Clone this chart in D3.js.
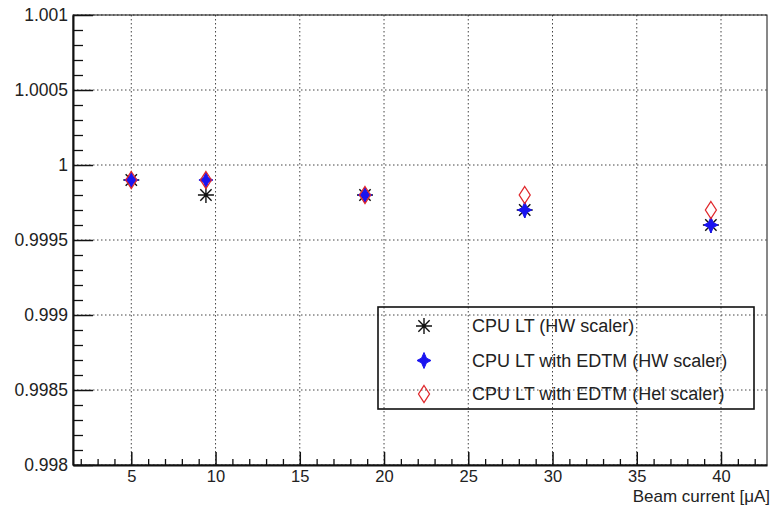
<!DOCTYPE html>
<html>
<head>
<meta charset="utf-8">
<script src="https://cdn.jsdelivr.net/npm/d3@7"></script>
<style>
  html, body { margin: 0; padding: 0; background: #fff; }
  svg { display: block; font-family: "Liberation Sans", Arial, Helvetica, sans-serif; }
</style>
</head>
<body>
<svg id="chart" width="773" height="505"></svg>
<script>
// Beam current [uA] at each measurement
const beamCurrent = [5.0, 9.43, 18.87, 28.35, 39.4];

// Live time ratios per method
const cpuLtHw        = [0.9999, 0.9998, 0.9998, 0.9997, 0.9996];
const cpuLtEdtmHw    = [0.9999, 0.9999, 0.9998, 0.9997, 0.9996];
const cpuLtEdtmHel   = [0.9999, 0.9999, 0.9998, 0.9998, 0.9997];

const xMajorTicks = [5, 10, 15, 20, 25, 30, 35, 40];
const yMajorTicks = [0.998, 0.9985, 0.999, 0.9995, 1, 1.0005, 1.001];
const yTickLabels = ["0.998", "0.9985", "0.999", "0.9995", "1", "1.0005", "1.001"];

const legendLabels = [
  "CPU LT (HW scaler)",
  "CPU LT with EDTM (HW scaler)",
  "CPU LT with EDTM (Hel scaler)"
];

const svg = d3.select("#chart");
const frame = { left: 73, right: 767, top: 15, bottom: 465 };

const x = d3.scaleLinear().domain([1.54, 42.73]).range([frame.left, frame.right]);
const y = d3.scaleLinear().domain([0.998, 1.001]).range([frame.bottom, frame.top]);

// dotted grid at major ticks
const grid = svg.append("g").attr("stroke", "#444").attr("stroke-width", 1)
  .attr("stroke-dasharray", "1.5,2.5");
grid.selectAll("line.vx").data(xMajorTicks).join("line")
  .attr("x1", d => x(d)).attr("x2", d => x(d))
  .attr("y1", frame.top).attr("y2", frame.bottom);
grid.selectAll("line.hy").data(yMajorTicks).join("line")
  .attr("x1", frame.left).attr("x2", frame.right)
  .attr("y1", d => y(d)).attr("y2", d => y(d));

// frame
svg.append("rect")
  .attr("x", frame.left).attr("y", frame.top)
  .attr("width", frame.right - frame.left).attr("height", frame.bottom - frame.top)
  .attr("fill", "none").attr("stroke", "#111").attr("stroke-width", 1);

// x axis: minor and major ticks pointing inward
const xMinor = d3.range(2, 43, 1).filter(v => v % 5 !== 0);
svg.append("g").attr("transform", `translate(0,${frame.bottom})`)
  .call(d3.axisBottom(x).tickValues(xMinor).tickSize(-6).tickFormat(""))
  .call(g => g.select(".domain").remove())
  .selectAll("line").attr("stroke", "#111").attr("stroke-width", 1.3);

const xAxis = svg.append("g").attr("transform", `translate(0,${frame.bottom})`)
  .call(d3.axisBottom(x).tickValues(xMajorTicks).tickSize(-13).tickPadding(5)
        .tickSizeOuter(0).tickFormat(d3.format("d")));
xAxis.select(".domain").attr("stroke", "#111").attr("stroke-width", 2);
xAxis.selectAll("line").attr("stroke", "#111").attr("stroke-width", 1.5);
xAxis.selectAll("text").attr("font-size", 16.5).attr("fill", "#222")
  .attr("font-family", "Liberation Sans, Arial, sans-serif");

// y axis
const yMinor = d3.range(0, 31).map(i => 0.998 + i * 0.0001)
  .filter(v => !yMajorTicks.some(t => Math.abs(t - v) < 1e-9));
svg.append("g").attr("transform", `translate(${frame.left},0)`)
  .call(d3.axisLeft(y).tickValues(yMinor).tickSize(-10).tickFormat(""))
  .call(g => g.select(".domain").remove())
  .selectAll("line").attr("stroke", "#111").attr("stroke-width", 1.3);

const yAxis = svg.append("g").attr("transform", `translate(${frame.left},0)`)
  .call(d3.axisLeft(y).tickValues(yMajorTicks).tickSize(-20).tickPadding(5)
        .tickSizeOuter(0).tickFormat((d, i) => yTickLabels[i]));
yAxis.select(".domain").attr("stroke", "#111").attr("stroke-width", 2);
yAxis.selectAll("line").attr("stroke", "#111").attr("stroke-width", 1.5);
yAxis.selectAll("text").attr("font-size", 17.5).attr("fill", "#222")
  .attr("font-family", "Liberation Sans, Arial, sans-serif");

// axis title
svg.append("text")
  .attr("x", frame.right + 3).attr("y", 502)
  .attr("text-anchor", "end").attr("font-size", 17).attr("fill", "#222")
  .text("Beam current [\u03bcA]");

// marker shapes
function asteriskPath(r) {
  const d = r * Math.SQRT1_2;
  return `M${-r},0L${r},0M0,${-r}L0,${r}M${-d},${-d}L${d},${d}M${-d},${d}L${d},${-d}`;
}
function starPath(h, w, c) {
  return `M0,${-h}L${c},${-c}L${w},0L${c},${c}L0,${h}L${-c},${c}L${-w},0L${-c},${-c}Z`;
}
function diamondPath(w, h) {
  return `M0,${-h}L${w},0L0,${h}L${-w},0Z`;
}

const series = [
  { values: cpuLtHw, draw: g => g.append("path").attr("d", asteriskPath(8))
      .attr("fill", "none").attr("stroke", "#111").attr("stroke-width", 1.4) },
  { values: cpuLtEdtmHw, draw: g => g.append("path").attr("d", starPath(8, 7, 2.4))
      .attr("fill", "#1a14f0").attr("stroke", "#1a14f0").attr("stroke-width", 1) },
  { values: cpuLtEdtmHel, draw: g => g.append("path").attr("d", diamondPath(5.5, 8.5))
      .attr("fill", "none").attr("stroke", "#e0282c").attr("stroke-width", 1.3) }
];

series.forEach(s => {
  svg.append("g").selectAll("g").data(s.values).join("g")
    .attr("transform", (d, i) => `translate(${x(beamCurrent[i])},${y(d)})`)
    .each(function () { s.draw(d3.select(this)); });
});

// legend
const legend = svg.append("g");
legend.append("rect")
  .attr("x", 378).attr("y", 307).attr("width", 376).attr("height", 102)
  .attr("fill", "none").attr("stroke", "#111").attr("stroke-width", 1.6);
const rowY = [326, 360.5, 394];
series.forEach((s, i) => {
  const g = legend.append("g").attr("transform", `translate(424,${rowY[i]})`);
  s.draw(g);
  legend.append("text")
    .attr("x", 472).attr("y", rowY[i]).attr("dy", "0.36em")
    .attr("font-size", 18).attr("fill", "#222")
    .text(legendLabels[i]);
});
</script>
</body>
</html>
